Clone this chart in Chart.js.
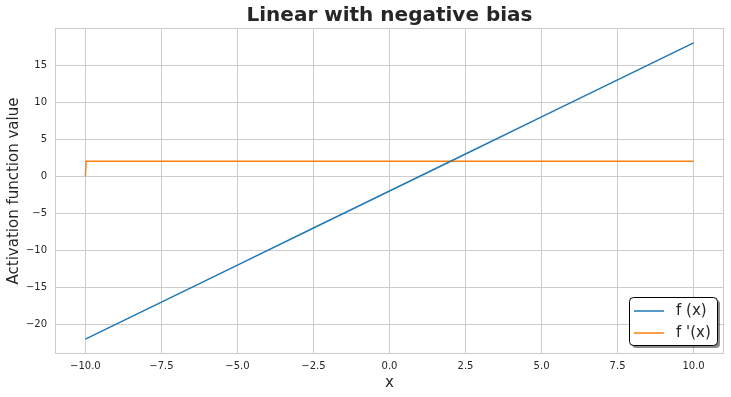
<!DOCTYPE html>
<html>
<head>
<meta charset="utf-8">
<script src="https://cdn.jsdelivr.net/npm/chart.js@4/dist/chart.umd.min.js"></script>
<style>
  html, body { margin: 0; padding: 0; background: #fff; }
  #wrap { width: 731px; height: 397px; }
</style>
</head>
<body>
<div id="wrap"><canvas id="chart" width="731" height="397"></canvas></div>
<script>
'use strict';

// values
const xValues = [-10, -7.5, -5, -2.5, 0, 2.5, 5, 7.5, 10];
const fValues = [-22, -17, -12, -7, -2, 3, 8, 13, 18];
const dxValues = [-10, -9.98, 10];
const dValues = [0, 2, 2];
const xTicks = [-10, -7.5, -5, -2.5, 0, 2.5, 5, 7.5, 10];
const yTicks = [-20, -15, -10, -5, 0, 5, 10, 15];
const seriesNames = ['f (x)', "f '(x)"];
const chartTitle = 'Linear with negative bias';

const toPoints = (xs, ys) => xs.map((x, i) => ({ x, y: ys[i] }));
const gridColor = '#cccccc';
const font = 'DejaVu Sans';

// frame on all four sides of the plot, title centred over the plot
const framePlugin = {
  id: 'frame',
  afterDatasetsDraw(chart) {
    const { ctx, chartArea: a } = chart;
    ctx.save();
    ctx.strokeStyle = gridColor;
    ctx.lineWidth = 1;
    ctx.strokeRect(Math.round(a.left) + 0.5, Math.round(a.top) + 0.5,
      Math.round(a.right - a.left) - 1, Math.round(a.bottom - a.top) - 1);
    ctx.font = `bold 20px "${font}"`;
    ctx.fillStyle = '#262626';
    ctx.textAlign = 'center';
    ctx.textBaseline = 'middle';
    ctx.fillText(chartTitle, (a.left + a.right) / 2, 16);
    ctx.restore();
  },
};

// matplotlib-style legend box in the lower right corner
const boxLegend = {
  id: 'boxLegend',
  afterDraw(chart) {
    const { ctx, chartArea: a } = chart;
    const w = 88, h = 48;
    const x = a.right - w - 7, y = a.bottom - h - 9;
    ctx.save();
    const rr = (ox, oy) => {
      ctx.beginPath();
      ctx.roundRect(ox, oy, w, h, 4);
    };
    rr(x + 3, y + 3);
    ctx.fillStyle = 'rgba(0,0,0,0.45)';
    ctx.fill();
    rr(x + 0.5, y + 0.5);
    ctx.fillStyle = '#fff';
    ctx.fill();
    ctx.strokeStyle = '#000';
    ctx.lineWidth = 1;
    ctx.stroke();
    ctx.font = `15px "${font}"`;
    ctx.textBaseline = 'middle';
    chart.data.datasets.forEach((ds, i) => {
      const cy = y + 14 + i * 22;
      ctx.strokeStyle = ds.borderColor;
      ctx.lineWidth = 1.5;
      ctx.beginPath();
      ctx.moveTo(x + 5, cy);
      ctx.lineTo(x + 35, cy);
      ctx.stroke();
      ctx.fillStyle = '#262626';
      ctx.fillText(ds.label, x + 47, cy);
    });
    ctx.restore();
  },
};

new Chart(document.querySelector('#chart'), {
  type: 'line',
  data: {
    datasets: [
      {
        label: seriesNames[0],
        data: toPoints(xValues, fValues),
        borderColor: '#1f77b4',
        borderWidth: 1.5,
        pointRadius: 0,
        tension: 0,
      },
      {
        label: seriesNames[1],
        data: toPoints(dxValues, dValues),
        borderColor: '#ff7f0e',
        borderWidth: 1.5,
        pointRadius: 0,
        tension: 0,
      },
    ],
  },
  options: {
    responsive: false,
    animation: false,
    layout: { padding: { left: 5, right: 7, top: 28, bottom: 5 } },
    plugins: {
      legend: { display: false },
      tooltip: { enabled: false },
      title: { display: false },
    },
    scales: {
      x: {
        type: 'linear',
        min: -11,
        max: 11,
        afterBuildTicks: (s) => { s.ticks = xTicks.map((v) => ({ value: v })); },
        afterFit: (s) => { s.height = 38; },
        ticks: {
          color: '#262626',
          font: { family: font, size: 10 },
          padding: 6,
          maxRotation: 0,
          callback: (v) => Number(v).toFixed(1).replace('-', '\u2212'),
        },
        grid: { color: gridColor, drawTicks: false },
        border: { display: false },
        title: {
          display: true,
          text: 'x',
          color: '#262626',
          font: { family: font, size: 15 },
          padding: { top: 2, bottom: 0 },
        },
      },
      y: {
        min: -24,
        max: 20,
        afterBuildTicks: (s) => { s.ticks = yTicks.map((v) => ({ value: v })); },
        afterFit: (s) => { s.width = 50; },
        ticks: {
          color: '#262626',
          font: { family: font, size: 10 },
          padding: 8,
          callback: (v) => String(v).replace('-', '\u2212'),
        },
        grid: { color: gridColor, drawTicks: false },
        border: { display: false },
        title: {
          display: true,
          text: 'Activation function value',
          color: '#262626',
          font: { family: font, size: 15 },
          padding: { top: 0, bottom: 4 },
        },
      },
    },
  },
  plugins: [framePlugin, boxLegend],
});
</script>
</body>
</html>
